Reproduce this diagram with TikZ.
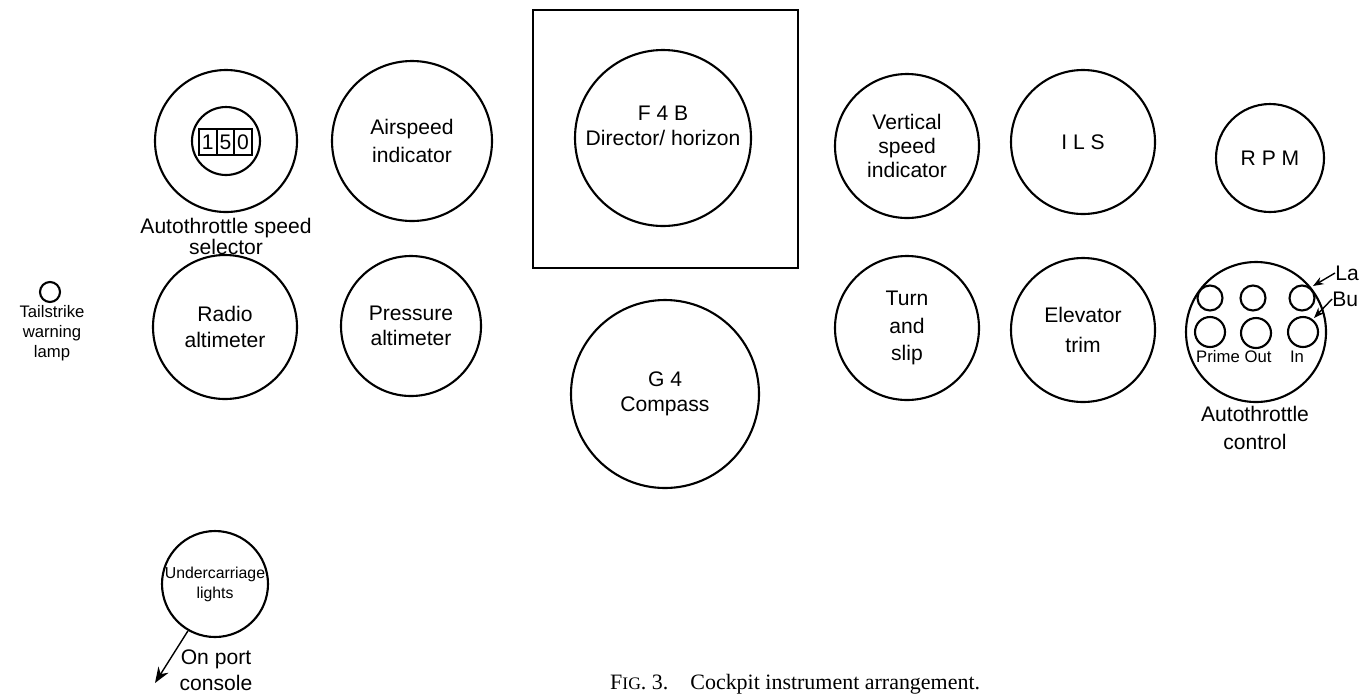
\documentclass[tikz,border=0pt]{standalone}
\usepackage{fontspec}
\setmainfont{Liberation Sans}
\newfontfamily\capfont{Liberation Serif}
\usetikzlibrary{arrows.meta}

\begin{document}
\begin{tikzpicture}[x=0.02cm,y=-0.02cm,
    gauge/.style={circle,draw,line width=1.2pt,inner sep=0pt,minimum size={2*#1*0.02cm},
        align=center,font=\fontsize{12}{14.5}\selectfont},
    lbl/.style={align=center,font=\fontsize{12}{14.5}\selectfont},
    tiny/.style={align=center,font=\fontsize{9.5}{11.5}\selectfont}]
    \useasboundingbox (0,0) rectangle (1361,694);
    % left column
    \node[gauge=71] (sel) at (226,141) {};
    \node[gauge=34] (selwin) at (226,141) {};
    \draw[line width=1.2pt] (199,129) rectangle (252,155);
    \draw[line width=1.2pt] (216.7,129) -- (216.7,155) (234.3,129) -- (234.3,155);
    \node[lbl] (d1) at (207.8,142) {1};
    \node[lbl] (d2) at (225.5,142) {5};
    \node[lbl] (d3) at (243.1,142) {0};
    \node[lbl,font=\fontsize{12}{12}\selectfont] (sellab) at (226,236) {Autothrottle speed\\selector};
    \node[gauge=80,font=\fontsize{12}{16}\selectfont] (asi) at (412,141) {Airspeed\\indicator};
    \node[gauge=72] (radalt) at (225,327) {Radio\\altimeter};
    \node[gauge=70] (presalt) at (411,326) {Pressure\\altimeter};
    % tailstrike lamp
    \node[gauge=10] (lamp) at (50,292) {};
    \node[tiny] (lamplab) at (52,333) {Tailstrike\\warning\\lamp};
    % centre panel
    \draw[line width=1.2pt] (533,10) rectangle (798,268);
    \node[gauge=88] (adi) at (663,138) {};
    \node[lbl] (aditext) at (663,126) {F 4 B\\Director/ horizon};
    \node[gauge=94] (comp) at (665,394) {G 4\\Compass};
    % right side
    \node[gauge=72,font=\fontsize{12}{13.5}\selectfont] (vsi) at (907,146) {Vertical\\speed\\indicator};
    \node[gauge=72] (ils) at (1083,142) {I L S};
    \node[gauge=54] (rpm) at (1270,158) {R P M};
    \node[gauge=72,font=\fontsize{12}{15.5}\selectfont] (turn) at (907,328) {Turn\\and\\slip};
    \node[gauge=72,font=\fontsize{12}{17}\selectfont] (elev) at (1083,330) {Elevator\\trim};
    % autothrottle control
    \node[gauge=70] (atc) at (1256,332) {};
    \node[gauge=12.5] (b1) at (1210,298) {};
    \node[gauge=12.5] (b2) at (1253,298) {};
    \node[gauge=12.5] (b3) at (1302,298) {};
    \node[gauge=15] (b4) at (1210,332) {};
    \node[gauge=15] (b5) at (1256,333) {};
    \node[gauge=15] (b6) at (1303,332) {};
    \node[tiny] (prime) at (1218,357) {Prime};
    \node[tiny] (out) at (1258,357) {Out};
    \node[tiny] (in) at (1297,357) {In};
    \node[lbl,font=\fontsize{12}{15.5}\selectfont] (atclab) at (1255,428) {Autothrottle\\control};
    \node[lbl,anchor=west,inner sep=0pt] (la) at (1335,273) {La};
    \node[lbl,anchor=west,inner sep=0pt] (bu) at (1332,299) {Bu};
    \coordinate (lamptip) at (1313,286);
    \coordinate (buttip) at (1314,318);
    \draw[-{Stealth[length=6pt]},thick] (la.west) -- (lamptip);
    \draw[-{Stealth[length=6pt]},thick] (bu.west) -- (buttip);
    % undercarriage
    \node[gauge=52,font=\fontsize{9}{11.5}\selectfont] (uc) at (215,584) {Undercarriage\\lights};
    \coordinate (port) at (155,683);
    \draw[-{Stealth[length=9pt]},thick] (uc.240) -- (port);
    \node[lbl] (portlab) at (216,670) {On port\\console};
    % caption
    \node[anchor=base west,font=\capfont\fontsize{12.5}{14}\selectfont] (cap) at (604,689)
        {F{\fontsize{10}{14}\selectfont IG}. 3.\quad Cockpit instrument arrangement.};
\end{tikzpicture}
\end{document}
